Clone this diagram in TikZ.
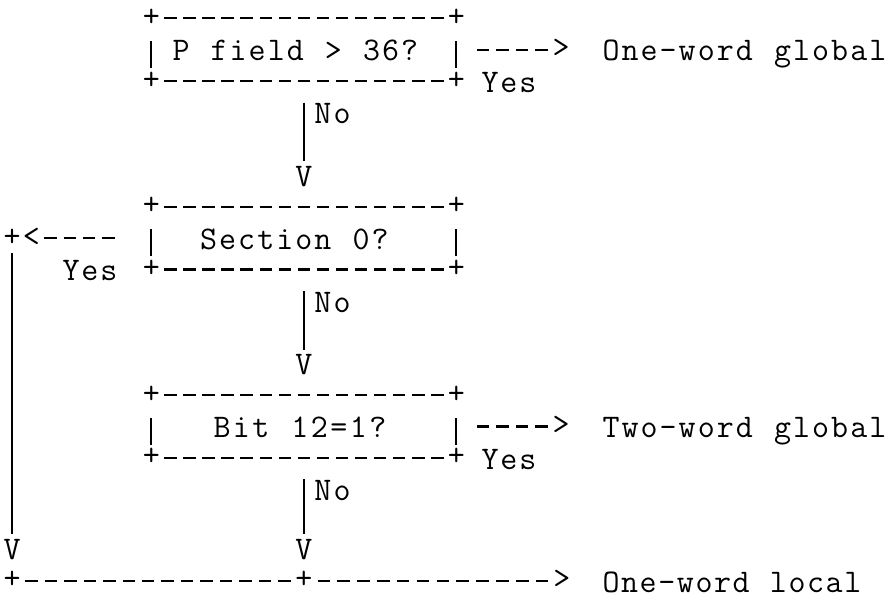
\documentclass[tikz,border=0pt]{standalone}
\makeatletter
\newcommand\pch{19.06pt}
\newcommand\ascdy{3.3pt}
\newcommand\gtnr{>}
\newcommand\hy{-}
\newcommand\asc[1]{\asc@#1\asc@end}
\def\asc@end{\asc@end}
\def\asc@#1{\ifx#1\asc@end\else\asc@char{#1}\expandafter\asc@\fi}
\def\asc@char#1{\hbox to \pch{\hss\asc@glyph{#1}\hss}}
\def\asc@glyph#1{%
  \ifx#1~\else
  \ifx#1-\smash{\rule[10.2pt]{12.5pt}{2.2pt}}\else
  \ifx#1|\rule[-7pt]{1.9pt}{27pt}\else
  \ifx#1+\smash{\raisebox{\ascdy}{+}}\else
  \ifx#1<\smash{\raisebox{\ascdy}{<}}\else
  \ifx#1>\smash{\raisebox{\ascdy}{>}}\else
  #1\fi\fi\fi\fi\fi\fi}
\makeatother
\tikzset{
  ascrow/.style={anchor=base west, inner sep=0pt, outer sep=0pt,
    font=\fontsize{33}{33}\selectfont\ttfamily, text=black},
  vbar/.style={line width=1.8pt, black}
}
% row r -> baseline y
\newcommand\ry[1]{{29.5+(#1-1)*31.4}}
% name, centre x of first character, baseline y, pitch, text
\newcommand\tline[5]{\node[ascrow] (#1) at ({#2-#4/2}, #3) {\def\pch{#4pt}\asc{#5}};}
% name, centre x of first character, row, text (grid pitch)
\newcommand\arowx[4]{\tline{#1}{#2}{\ry{#3}}{19.06}{#4}}
% name, column, row, text
\newcommand\arow[4]{\arowx{#1}{18+#2*19.06}{#3}{#4}}
\begin{document}
\begin{tikzpicture}[x=1pt,y=-1pt]
\useasboundingbox[fill=white] (0,0) rectangle (888,600);
% ---- box 1
\arow{b1top}{7}{1}{+---------------+}
\arow{b1l}{7}{2}{|}
\arowx{b1text}{181}{2}{P~field~\gtnr~36?}
\arow{b1r}{23}{2}{|}
\tline{b1arrow}{483}{\ry{2}}{19.5}{---->}
\tline{b1out}{611}{\ry{2}}{19.06}{One\hy word~global}
\arow{b1bot}{7}{3}{+---------------+}
\tline{b1yes}{490}{\ry{3}}{19}{Yes}
\arow{b1no}{16}{4}{No}
\arow{b1v}{15}{6}{V}
% ---- box 2
\arow{b2top}{7}{7}{+---------------+}
\tline{b2left}{12}{\ry{8}}{19.3}{+<----}
\arow{b2l}{7}{8}{|}
\arow{b2text}{10}{8}{Section~0?}
\arow{b2r}{23}{8}{|}
\tline{b2yes}{71}{\ry{9}}{19}{Yes}
\arow{b2bot}{7}{9}{+---------------+}
\arow{b2no}{16}{10}{No}
\arow{b2v}{15}{12}{V}
% ---- box 3
\arow{b3top}{7}{13}{+---------------+}
\arow{b3l}{7}{14}{|}
\tline{b3text}{222}{\ry{14}}{19.5}{Bit~12=1?}
\arow{b3r}{23}{14}{|}
\tline{b3arrow}{483}{\ry{14}}{19.5}{---->}
\tline{b3out}{611}{\ry{14}}{19.06}{Two\hy word~global}
\arow{b3bot}{7}{15}{+---------------+}
\tline{b3yes}{490}{\ry{15}}{19}{Yes}
\arow{b3no}{16}{16}{No}
\tline{b3v}{303.9}{559}{19.06}{V}
% ---- bottom line
\tline{lv}{12}{559}{19.06}{V}
\tline{bottomA}{12}{592}{19.46}{+--------------}
\tline{bottomB}{303.9}{592}{19.85}{+------------>}
\tline{bout}{611}{592}{18.6}{One\hy word~local}
% ---- vertical connectors
\coordinate (c1a) at (303.9,102.5);
\coordinate (c2a) at (303.9,{102.5+6*31.4});
\coordinate (c3a) at (303.9,{102.5+12*31.4});
\coordinate (cla) at (12,253);
\draw[vbar, shorten >=5pt] (c1a) -- (c1a |- b1v.north);
\draw[vbar, shorten >=5pt] (c2a) -- (c2a |- b2v.north);
\draw[vbar, shorten >=5pt] (c3a) -- (c3a |- b3v.north);
\draw[vbar, shorten >=5pt] (cla) -- (cla |- lv.north);
\end{tikzpicture}
\end{document}
